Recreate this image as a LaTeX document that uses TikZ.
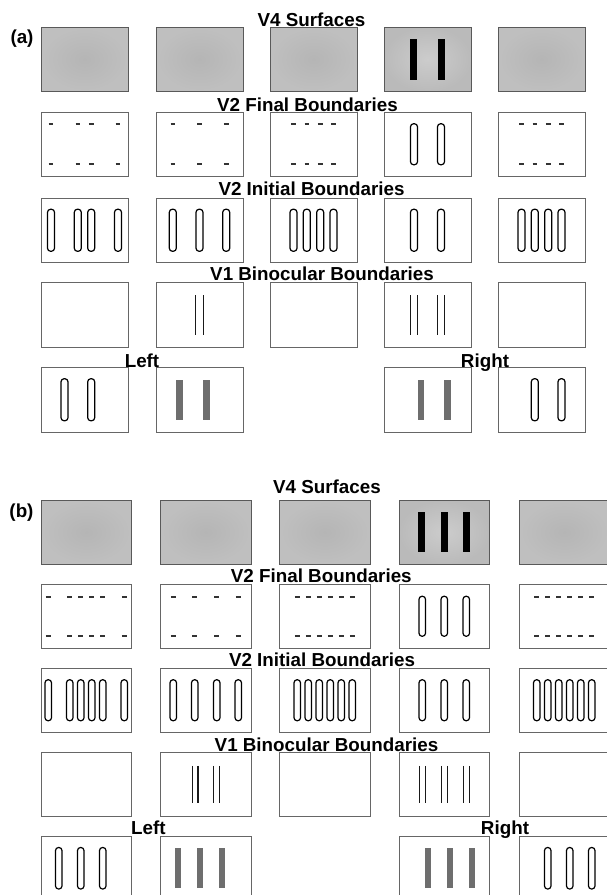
\documentclass[tikz,border=0pt]{standalone}
\usepackage{fontspec}
\setmainfont{Liberation Sans}
\newcommand\drOvals[4]{% box, height, halfwidth, list
  \begin{scope}[shift={(#1.center)}]
    \foreach \d in {#4} \draw[ovst] ({\d-#3},{-#2/2}) rectangle ({\d+#3},{#2/2});
  \end{scope}}
\newcommand\drBars[5]{% box, height, halfwidth, style, list
  \begin{scope}[shift={(#1.center)}]
    \foreach \d in {#5} \fill[#4] ({\d-#3},{-#2/2}) rectangle ({\d+#3},{#2/2});
  \end{scope}}
\newcommand\drLines[3]{% box, height, list
  \begin{scope}[shift={(#1.center)}]
    \foreach \d in {#3} \draw[v1st] (\d,{-#2/2}) -- (\d,{#2/2});
  \end{scope}}
\newcommand\drDashes[3]{% box, offset, list
  \begin{scope}[shift={(#1.center)}]
    \foreach \d in {#3} {
      \draw[dashst] ({\d-2.3},{-#2}) -- ({\d+2.3},{-#2});
      \draw[dashst] ({\d-2.3},{#2}) -- ({\d+2.3},{#2});
    }
  \end{scope}}
\begin{document}
\begin{tikzpicture}[x=1pt,y=-1pt,
  lab/.style={font=\fontsize{18.8}{20}\selectfont\bfseries, inner sep=0pt, anchor=base},
  wbox/.style={draw=black!60, line width=0.9pt, fill=white, inner sep=0pt, outer sep=0pt, anchor=north west},
  abox/.style={wbox, minimum width=87pt, minimum height=64.5pt},
  bbox/.style={wbox, minimum width=90.5pt, minimum height=63.5pt},
  gshade/.style={draw=black!65, inner color=black!29, outer color=black!25},
  lshade/.style={draw=black!65, inner color=black!20, outer color=black!27},
  ovst/.style={draw=black, line width=1.2pt, rounded corners=3pt},
  v1st/.style={draw=black!90, line width=1.1pt},
  dashst/.style={draw=black!80, line width=1.7pt},
  barblk/.style={fill=black},
  bargry/.style={fill=black!57}]
\path[use as bounding box, clip] (0,0) rectangle (607,895);
\fill[white] (0,0) rectangle (607,895);

% ---------------- (a) ----------------
\foreach \c/\x in {1/41,2/156,3/270,5/498}
  \node[abox, gshade] (aS\c) at (\x,27) {};
\node[abox, lshade] (aS4) at (384,27) {};
\foreach \c/\x in {1/41,2/156,3/270,4/384,5/498} {
  \node[abox] (aF\c) at (\x,112) {};
  \node[abox] (aI\c) at (\x,198) {};
  \node[abox] (aB\c) at (\x,282.5) {};
}
\node[abox] (aL1) at (41,367.5) {};
\node[abox] (aL2) at (156,367.5) {};
\node[abox] (aR4) at (384,367.5) {};
\node[abox] (aR5) at (498,367.5) {};

\node[lab] (ta) at (22,43) {(a)};
\node[lab] (aT1) at (311.5,26) {V4 Surfaces};
\node[lab] (aT2) at (307.5,111) {V2 Final Boundaries};
\node[lab] (aT3) at (311.5,195) {V2 Initial Boundaries};
\node[lab] (aT4) at (322,280) {V1 Binocular Boundaries};
\node[lab] (aTL) at (142,367) {Left};
\node[lab] (aTR) at (485,367) {Right};

\drBars{aS4}{41}{3.5}{barblk}{-13.7,13.7}
\drDashes{aF1}{20}{-33.5,-6.7,6.7,33.5}
\drDashes{aF2}{20}{-26.7,0,26.7}
\drDashes{aF3}{20}{-20,-6.7,6.7,20}
\drOvals{aF4}{41}{3.5}{-13.5,13.5}
\drDashes{aF5}{20}{-20,-6.7,6.7,20}
\drOvals{aI1}{42}{3.5}{-33.5,-6.7,6.7,33.5}
\drOvals{aI2}{42}{3.5}{-26.7,0,26.7}
\drOvals{aI3}{42}{3.5}{-20,-6.7,6.7,20}
\drOvals{aI4}{42}{3.5}{-13.5,13.5}
\drOvals{aI5}{42}{3.5}{-20,-6.7,6.7,20}
\drLines{aB2}{39.5}{-3.6,3.6}
\drLines{aB4}{39.5}{-17,-10,10,17}
\drOvals{aL1}{42}{3.5}{-20,6.7}
\drBars{aL2}{40.5}{3.3}{bargry}{-20,6.7}
\drBars{aR4}{40.5}{3.3}{bargry}{-6.7,20}
\drOvals{aR5}{42}{3.5}{-6.7,20}

% ---------------- (b) ----------------
\foreach \c/\x in {1/41,2/160.5,3/279.5,5/519}
  \node[bbox, gshade] (bS\c) at (\x,500.5) {};
\node[bbox, lshade] (bS4) at (399,500.5) {};
\foreach \c/\x in {1/41,2/160.5,3/279.5,4/399,5/519} {
  \node[bbox] (bF\c) at (\x,584.5) {};
  \node[bbox] (bI\c) at (\x,668.5) {};
  \node[bbox] (bB\c) at (\x,752.5) {};
}
\node[bbox] (bL1) at (41,836.5) {};
\node[bbox] (bL2) at (160.5,836.5) {};
\node[bbox] (bR4) at (399,836.5) {};
\node[bbox] (bR5) at (519,836.5) {};

\node[lab] (tb) at (21.5,517) {(b)};
\node[lab] (bT1) at (327,493.3) {V4 Surfaces};
\node[lab] (bT2) at (321.3,582.7) {V2 Final Boundaries};
\node[lab] (bT3) at (322,666.7) {V2 Initial Boundaries};
\node[lab] (bT4) at (326.5,751.7) {V1 Binocular Boundaries};
\node[lab] (bTL) at (148.3,834) {Left};
\node[lab] (bTR) at (505,834) {Right};

\drBars{bS4}{40}{3.4}{barblk}{-22.5,0,22.5}
\drDashes{bF1}{19.5}{-38,-16.5,-5.5,5.5,16.5,38}
\drDashes{bF2}{19.5}{-32.5,-11,11,32.5}
\drDashes{bF3}{19.5}{-27.5,-16.5,-5.5,5.5,16.5,27.5}
\drOvals{bF4}{40}{3.25}{-22,0,22}
\drDashes{bF5}{19.5}{-27.5,-16.5,-5.5,5.5,16.5,27.5}
\drOvals{bI1}{41}{3.25}{-38,-16.5,-5.5,5.5,16.5,38}
\drOvals{bI2}{41}{3.25}{-32.5,-11,11,32.5}
\drOvals{bI3}{41}{3.25}{-27.5,-16.5,-5.5,5.5,16.5,27.5}
\drOvals{bI4}{41}{3.25}{-22,0,22}
\drOvals{bI5}{41}{3.25}{-27.5,-16.5,-5.5,5.5,16.5,27.5}
\drLines{bB2}{37}{-13.7,-7.8,7.8,13.7}
\drLines{bB4}{37}{-25,-19,-3,3,19,25}
\drOvals{bL1}{41.5}{3.25}{-27.5,-5.5,16.5}
\drBars{bL2}{40}{3}{bargry}{-27.5,-5.5,16.5}
\drBars{bR4}{40}{3}{bargry}{-16.5,5.5,27.5}
\drOvals{bR5}{41.5}{3.25}{-16.5,5.5,27.5}
\end{tikzpicture}
\end{document}
